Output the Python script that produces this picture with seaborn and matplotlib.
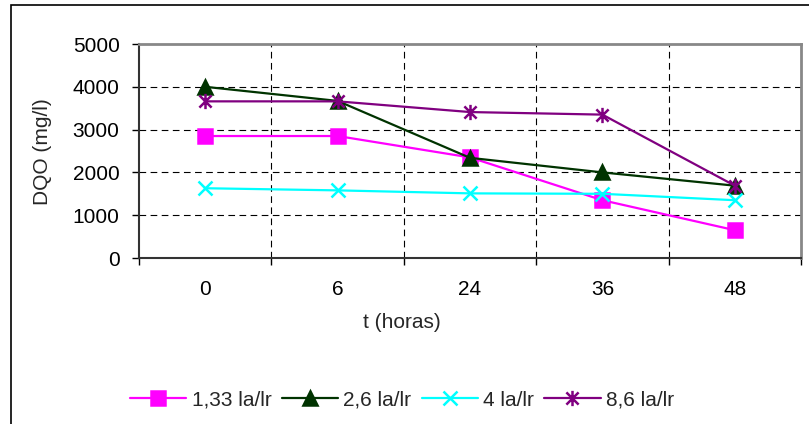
import matplotlib
matplotlib.use("Agg")
import matplotlib.pyplot as plt
from matplotlib.patches import Rectangle
from matplotlib.path import Path
import numpy as np
import pandas as pd
import seaborn as sns

# Sampling times (hours) and DQO readings for each dilution series
tiempos = ["0", "6", "24", "36", "48"]
series = ["1,33 la/lr", "2,6 la/lr", "4 la/lr", "8,6 la/lr"]
dqo_133 = [2850, 2850, 2350, 1350, 650]
dqo_26 = [4000, 3670, 2340, 2000, 1690]
dqo_4 = [1630, 1580, 1510, 1500, 1350]
dqo_86 = [3660, 3660, 3410, 3350, 1690]

valores = [dqo_133, dqo_26, dqo_4, dqo_86]
colores = ["#FF00FF", "#003300", "#00FFFF", "#800080"]

# asterisk marker: an "x" crossed by a vertical bar
asterisco = Path([(0, -1), (0, 1), (-0.8, -0.8), (0.8, 0.8), (-0.8, 0.8), (0.8, -0.8)],
                 [Path.MOVETO, Path.LINETO, Path.MOVETO, Path.LINETO, Path.MOVETO, Path.LINETO])
marcadores = ["s", "^", "x", asterisco]
tamanos = [10, 10, 10, 11]

FS = 15
sns.set_theme(style="white")
plt.rcParams["font.family"] = ["Liberation Sans", "DejaVu Sans"]
plt.rcParams["font.size"] = FS

fig = plt.figure(figsize=(8.09, 4.24), dpi=100)
ax = fig.add_axes([139 / 809, 1 - 258 / 424, 662 / 809, 214 / 424])

posiciones = np.arange(len(tiempos))
for nombre, vals, col, mk, ms in zip(series, valores, colores, marcadores, tamanos):
    d = pd.DataFrame({"pos": posiciones, "DQO": vals})
    sns.lineplot(data=d, x="pos", y="DQO", color=col, marker=mk,
                 linewidth=1.6, markersize=ms, markeredgewidth=1.8,
                 markeredgecolor=col, label=nombre, ax=ax)

ax.set_xlim(-0.5, len(tiempos) - 0.5)
ax.set_ylim(0, 5000)
ax.set_yticks(np.arange(0, 5001, 1000))
ax.set_xticks(posiciones)
ax.set_xticklabels(tiempos)
ax.set_xticks(np.arange(-0.5, len(tiempos)), minor=True)

ax.tick_params(axis="x", which="major", length=0, pad=16, labelsize=FS, colors="black")
ax.tick_params(axis="x", which="minor", bottom=True, length=5, width=1, color="black", direction="out")
ax.tick_params(axis="y", which="major", left=True, length=5, width=1, color="black",
               direction="out", pad=9, labelsize=FS, labelcolor="black")

# dashed grid at category boundaries and at each 1000 mg/l
for xv in np.arange(0.5, len(tiempos) - 1):
    ax.axvline(xv, color="black", linestyle=(0, (6, 4)), linewidth=0.8, zorder=0)
for yv in range(1000, 5000, 1000):
    ax.axhline(yv, color="black", linestyle=(0, (6, 4)), linewidth=0.8, zorder=0)

ax.spines["left"].set_color("#333333")
ax.spines["bottom"].set_color("#333333")
ax.spines["left"].set_linewidth(1.5)
ax.spines["bottom"].set_linewidth(1.5)
ax.spines["right"].set_color("#888888")
ax.spines["top"].set_color("#888888")
ax.spines["right"].set_linewidth(2)
ax.spines["top"].set_linewidth(2)

ax.set_xlabel("")
ax.set_ylabel("")
fig.text(402 / 809, 1 - 322 / 424, "t (horas)", ha="center", va="center", fontsize=FS)
fig.text(43 / 809, 1 - 152 / 424, "DQO (mg/l)", ha="center", va="center",
         rotation=90, fontsize=FS)

handles, labels = ax.get_legend_handles_labels()
ax.get_legend().remove()
fig.legend(handles, labels, loc="center", bbox_to_anchor=(402 / 809, 1 - 400 / 424),
           ncol=4, frameon=False, fontsize=FS, handlelength=2.7,
           handletextpad=0.25, columnspacing=0.5, borderpad=0)

# outer chart-area frame
fig.patches.append(Rectangle((11 / 809, -0.05), 1.0, 1 - 5 / 424 + 0.05,
                             transform=fig.transFigure, fill=False,
                             edgecolor="black", linewidth=1.2))

fig.savefig("out.png", dpi=100)
